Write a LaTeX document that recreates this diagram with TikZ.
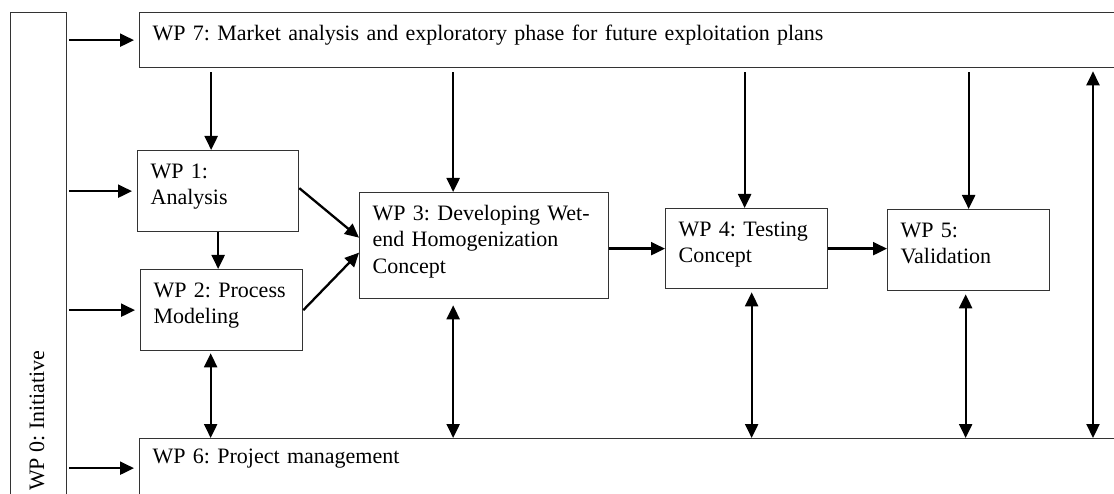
\documentclass[tikz,border=0pt]{standalone}
\usepackage{fontspec}
\setmainfont{Liberation Serif}
\usetikzlibrary{arrows.meta}
\tikzstyle{wpbox}=[draw=black!80, line width=1.3pt, anchor=north west, align=left, inner xsep=13pt, inner ysep=0pt, text height=28pt]
\tikzstyle{arr}=[-{Triangle[length=14pt,width=13pt]}, line width=2.3pt]
\tikzstyle{darr}=[{Triangle[length=14pt,width=13pt]}-{Triangle[length=14pt,width=13pt]}, line width=2.3pt]

\begin{document}
\frenchspacing
\begin{tikzpicture}[x=1pt, y=-1pt, font=\fontsize{22}{26.3}\selectfont]
    \useasboundingbox (0,0) rectangle (1114,494);
    \clip (0,0) rectangle (1114,494);
% Work packages
    \node[draw=black!80, line width=1.3pt, anchor=north west, inner sep=0pt, minimum width=56pt, minimum height=500pt] (wp0) at (10,12) {};
    \node[rotate=90, anchor=base west, inner sep=0pt] (wp0t) at (44,491) {WP 0: Initiative};
    \node[wpbox, text width=965pt, text depth=27pt] (wp7) at (139,12) {WP 7: Market analysis and exploratory phase for future exploitation plans};
    \node[wpbox, text width=135pt, text depth=53pt] (wp1) at (137,150) {WP 1:\\Analysis};
    \node[wpbox, text width=136pt, text depth=53pt] (wp2) at (140,269) {WP 2: Process\\Modeling};
    \node[wpbox, text width=223pt, text depth=78pt] (wp3) at (359,192) {WP 3: Developing Wet-\\end Homogenization\\Concept};
    \node[wpbox, text width=136pt, text depth=52pt] (wp4) at (665,208) {WP 4: Testing\\Concept};
    \node[wpbox, text width=136pt, text depth=53pt] (wp5) at (887,209) {WP 5:\\Validation};
    \node[wpbox, text width=965pt, text height=25pt, text depth=34pt] (wp6) at (139,438) {WP 6: Project management};
    \coordinate (rside) at (1093,0);
% Initiative feeds
    \draw[arr, shorten <=2pt, shorten >=5pt] (wp7.west -| wp0.east) -- (wp7.west);
    \draw[arr, shorten <=2pt, shorten >=5pt] (wp1.west -| wp0.east) -- (wp1.west);
    \draw[arr, shorten <=2pt, shorten >=5pt] (wp2.west -| wp0.east) -- (wp2.west);
    \draw[arr, shorten <=2pt, shorten >=5pt] (wp6.west -| wp0.east) -- (wp6.west);
% Market analysis feeds
    \draw[arr, shorten <=4pt] ([xshift=-7pt]wp1.north |- wp7.south) -- ([xshift=-7pt]wp1.north);
    \draw[arr, shorten <=4pt] ([xshift=-31pt]wp3.north |- wp7.south) -- ([xshift=-31pt]wp3.north);
    \draw[arr, shorten <=4pt] ([xshift=-2pt]wp4.north |- wp7.south) -- ([xshift=-2pt]wp4.north);
    \draw[arr, shorten <=4pt] (wp5.north |- wp7.south) -- (wp5.north);
% Work flow
    \draw[arr] (wp1.south) -- (wp1.south |- wp2.north);
    \draw[arr] ([yshift=3pt]wp1.east) -- ([yshift=8pt]wp3.west);
    \draw[arr] (wp2.east) -- ([yshift=-7pt]wp3.west);
    \draw[arr] (wp3.east |- wp4.west) -- (wp4.west);
    \draw[arr] (wp4.east) -- (wp4.east -| wp5.west);
% Project management links
    \draw[darr, shorten <=2pt] ([xshift=-11pt]wp2.south) -- ([xshift=-11pt]wp2.south |- wp6.north);
    \draw[darr, shorten <=6pt] ([xshift=-31pt]wp3.south) -- ([xshift=-31pt]wp3.south |- wp6.north);
    \draw[darr, shorten <=3pt] ([xshift=5pt]wp4.south) -- ([xshift=5pt]wp4.south |- wp6.north);
    \draw[darr, shorten <=3pt] ([xshift=-3pt]wp5.south) -- ([xshift=-3pt]wp5.south |- wp6.north);
    \draw[darr, shorten <=3pt] (rside |- wp7.south) -- (rside |- wp6.north);
\end{tikzpicture}
\end{document}
